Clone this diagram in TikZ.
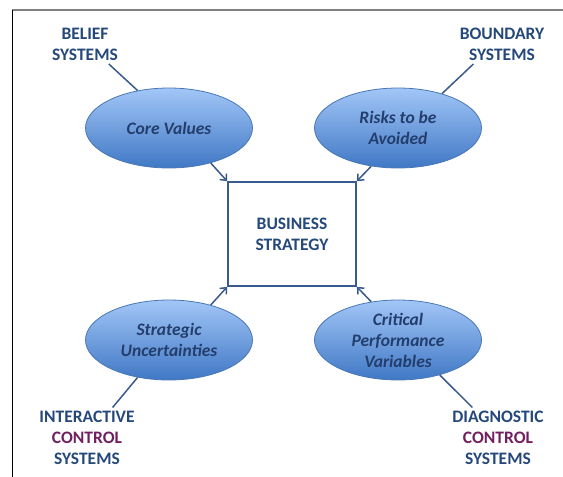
\documentclass[tikz,border=0pt]{standalone}
\usepackage{fontspec}
\setmainfont{Carlito}
\usetikzlibrary{shapes.geometric,arrows.meta}
\definecolor{labelblue}{RGB}{37,72,122}
\definecolor{ovaltextblue}{RGB}{35,62,108}
\definecolor{ctrlpurple}{RGB}{112,32,96}
\definecolor{ovaltop}{RGB}{162,198,247}
\definecolor{ovalbottom}{RGB}{64,120,197}
\definecolor{ovalline}{RGB}{74,120,180}
\definecolor{linkblue}{RGB}{56,90,140}

\begin{document}
\begin{tikzpicture}[thick, x=1pt, y=-1pt,
  lbl/.style={align=center, text=labelblue, font=\fontsize{17.5}{21}\selectfont\bfseries},
  oval/.style={ellipse, draw=ovalline, line width=0.8pt, top color=ovaltop, bottom color=ovalbottom,
    minimum width=167pt, minimum height=80pt, inner sep=0pt},
  ovaltext/.style={align=center, text=ovaltextblue, font=\fontsize{17.5}{21}\selectfont\bfseries\itshape},
  link/.style={draw=linkblue, line width=1.5pt},
  tolink/.style={link, -{Straight Barb[length=5pt,width=9pt]}}]
\useasboundingbox (0,0) rectangle (563,477);
\draw[gray, line width=1.5pt] (12,10) -- (563,10);
\draw[black, line width=0.8pt] (12,10) -- (12,477);

\node[draw=linkblue, line width=1.8pt, minimum width=128pt, minimum height=104pt, lbl] (biz) at (292,234) {BUSINESS\\STRATEGY};

\node[oval] (cv) at (169,128) {};
\node[ovaltext] at (cv) {Core Values};
\node[oval] (risk) at (398,128) {};
\node[ovaltext] at (risk) {Risks to be\\Avoided};
\node[oval] (su) at (169,340) {};
\node[ovaltext] at (su) {Strategic\\Uncertainties};
\node[oval] (cpv) at (398,340) {};
\node[ovaltext] at (cpv) {Critical\\Performance\\Variables};

\node[lbl] (belief) at (85,44) {BELIEF\\SYSTEMS};
\node[lbl] (boundary) at (502,44) {BOUNDARY\\SYSTEMS};
\node[lbl] (interactive) at (87,438) {INTERACTIVE\\\textcolor{ctrlpurple}{CONTROL}\\SYSTEMS};
\node[lbl] (diagnostic) at (498,438) {DIAGNOSTIC\\\textcolor{ctrlpurple}{CONTROL}\\SYSTEMS};

\draw[link] (belief.-40) -- (cv.130);
\draw[link] (boundary.-145) -- (risk.38);
\draw[link] (interactive.50) -- (su.-130);
\draw[link] (diagnostic.130) -- (cpv.-40);

\draw[tolink] (cv.-40) -- (biz.north west);
\draw[tolink] (risk.-125) -- (biz.north east);
\draw[tolink] (su.40) -- (biz.south west);
\draw[tolink] (cpv.125) -- (biz.south east);
\end{tikzpicture}
\end{document}
